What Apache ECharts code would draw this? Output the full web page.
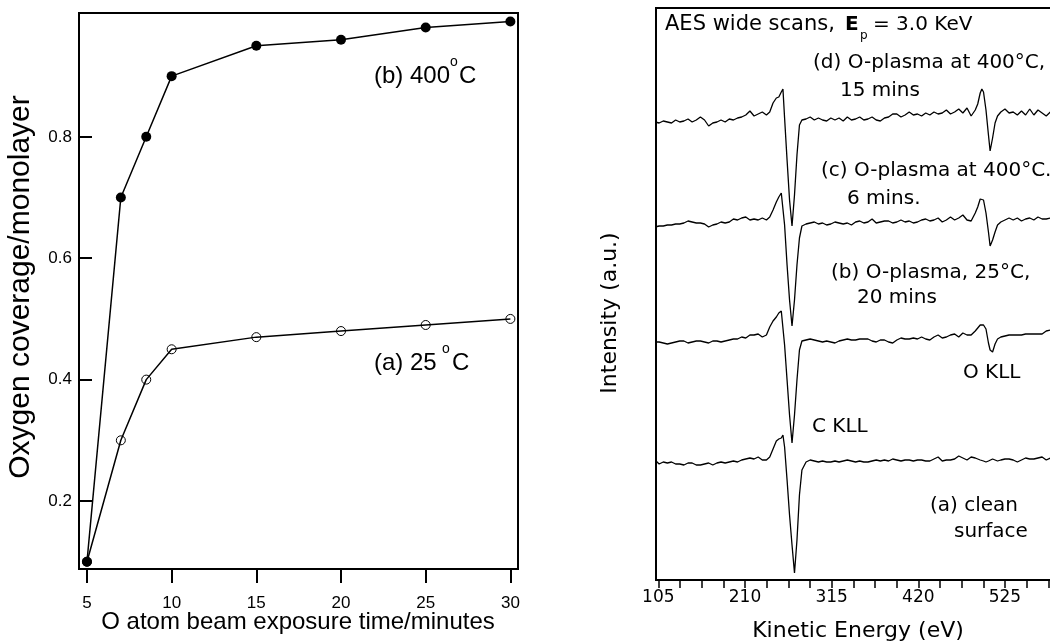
<!DOCTYPE html>
<html>
<head>
<meta charset="utf-8">
<script src="https://cdn.jsdelivr.net/npm/echarts@6/dist/echarts.min.js"></script>
<style>
    html, body { margin: 0; padding: 0; background: #fff; }
    #main { width: 1050px; height: 643px; }
</style>
</head>
<body>
<div id="main"></div>
<script>
    // left panel: coverage vs exposure time
    var coverTime = [5, 7, 8.5, 10, 15, 20, 25, 30];
    var cover25C = [0.1, 0.3, 0.4, 0.45, 0.47, 0.48, 0.49, 0.5];
    var cover400C = [0.1, 0.7, 0.8, 0.9, 0.95, 0.96, 0.98, 0.99];
    var timeTicks = [5, 10, 15, 20, 25, 30];
    var coverTicks = [0.2, 0.4, 0.6, 0.8];

    // right panel: AES wide scans (intensity in a.u., traces offset)
    var energy = [101, 106, 111, 116, 121, 126, 131, 136, 141, 146, 151, 156, 161, 166, 171, 176, 181, 186, 191, 196, 201, 206, 211, 216, 221, 226, 231, 236,
        240, 244, 248, 251, 254, 256, 258, 261, 264, 267, 270, 273, 276, 279,
        284, 289, 294, 299, 304, 309, 314, 319, 324, 329, 334, 339, 344, 349, 354, 359, 364, 369, 374, 379, 384, 389, 394, 399, 404, 409, 414, 419, 424, 429, 434, 439, 444, 449, 454, 459, 464, 469, 474, 479, 484, 489,
        492, 495, 497, 499, 502, 505, 507, 510, 513, 516,
        520, 525, 530, 535, 540, 545, 550, 555, 560, 565, 570, 575, 580];
    var scanD = [458, 457, 459, 458, 457, 460, 458, 459, 461, 458, 460, 463, 460, 454, 457, 458, 460, 458, 461, 460, 462, 463, 465, 469, 464, 466, 468, 465,
        468, 477, 482, 483, 488, 491, 462, 420, 380, 354, 385, 425, 455, 460,
        461, 463, 460, 462, 460, 459, 462, 460, 462, 459, 463, 460, 461, 463, 460, 461, 463, 460, 459, 462, 463, 466, 466, 463, 465, 468, 465, 466, 464, 467, 465, 468, 466, 467, 470, 466, 468, 471, 467, 472, 464, 470,
        476, 487, 491, 488, 470, 445, 429, 442, 457, 464,
        468, 471, 467, 468, 465, 469, 465, 471, 465, 470, 467, 464, 468];
    var scanC = [353, 354, 354, 355, 355, 356, 356, 357, 359, 358, 357, 357, 356, 353, 355, 356, 358, 357, 358, 361, 360, 362, 363, 360, 361, 360, 362, 360,
        363, 370, 378, 383, 387, 385, 355, 315, 280, 254, 280, 315, 342, 354,
        356, 357, 358, 356, 357, 355, 356, 358, 357, 356, 357, 355, 358, 359, 357, 358, 361, 357, 358, 359, 359, 357, 358, 360, 358, 359, 357, 358, 360, 361, 359, 360, 362, 358, 360, 363, 360, 362, 365, 360, 359, 367,
        373, 381, 383, 380, 367, 348, 334, 340, 348, 355,
        358, 360, 362, 360, 362, 359, 361, 362, 360, 363, 361, 361, 362];
    var scanB = [238, 238, 237, 236, 237, 238, 239, 239, 237, 238, 239, 239, 238, 237, 239, 239, 238, 239, 240, 241, 241, 243, 242, 245, 245, 246, 243, 245,
        253, 259, 263, 267, 269, 267, 235, 200, 165, 137, 165, 200, 230, 239,
        240, 241, 240, 239, 238, 239, 238, 237, 239, 240, 241, 240, 240, 241, 241, 241, 239, 238, 240, 240, 238, 237, 240, 242, 241, 241, 242, 241, 243, 241, 240, 243, 245, 242, 243, 245, 246, 243, 247, 245, 245, 249,
        252, 255, 257, 255, 251, 237, 230, 228, 236, 241,
        243, 244, 245, 245, 245, 245, 246, 246, 246, 246, 246, 249, 250];
    var scanA = [120, 116, 118, 117, 118, 116, 116, 115, 117, 117, 115, 115, 116, 117, 115, 117, 118, 117, 118, 119, 118, 120, 121, 122, 121, 123, 120, 120,
        123, 131, 139, 141, 142, 145, 133, 100, 65, 35, 7, 40, 85, 110,
        118, 120, 119, 118, 119, 118, 118, 119, 118, 119, 120, 119, 118, 119, 118, 118, 119, 120, 119, 120, 119, 121, 120, 119, 120, 120, 119, 120, 120, 119, 119, 121, 123, 119, 120, 120, 121, 124, 122, 120, 123, 122,
        121, 120, 119, 119, 118, 119, 120, 121, 120, 119,
        120, 121, 121, 120, 118, 120, 122, 121, 121, 122, 123, 120, 122];
    var energyLabels = [105, 210, 315, 420, 525];
    var energyTicks = [105, 131.25, 157.5, 183.75, 210, 236.25, 262.5, 288.75, 315, 341.25, 367.5, 393.75, 420, 446.25, 472.5, 498.75, 525, 551.25, 577.5];

    var SANS = 'Liberation Sans';
    var WIDE = 'DejaVu Sans';

    function pairs(xs, ys) {
        return xs.map(function (x, i) { return [x, ys[i]]; });
    }

    function txt(x, y, text, size, family, extra) {
        var el = {
            type: 'text', x: x, y: y, silent: true,
            style: { text: text, fill: '#000', fontSize: size, fontFamily: family, align: 'left', verticalAlign: 'middle' }
        };
        if (extra) {
            for (var k in extra) el.style[k] = extra[k];
        }
        return el;
    }

    function scanSeries(ys) {
        return {
            type: 'line', xAxisIndex: 1, yAxisIndex: 1,
            data: pairs(energy, ys),
            symbol: 'none', showSymbol: false, silent: true,
            lineStyle: { color: '#000', width: 1.3 }
        };
    }

    var chart = echarts.init(document.getElementById('main'), null, { renderer: 'canvas' });

    var option = {
        animation: false,
        backgroundColor: '#fff',
        grid: [
            { left: 79, top: 13, width: 439, height: 556, show: true, borderColor: '#000', borderWidth: 2, outerBoundsMode: 'none', containLabel: false },
            { left: 656, top: 8, right: -12, bottom: 63, show: true, borderColor: '#000', borderWidth: 2, outerBoundsMode: 'none', containLabel: false }
        ],
        xAxis: [
            {
                gridIndex: 0, type: 'value', min: 4.53, max: 30.45,
                splitLine: { show: false },
                axisLine: { show: true, lineStyle: { color: '#000', width: 2 } },
                axisTick: { show: true, inside: false, length: 14, customValues: timeTicks, lineStyle: { color: '#000', width: 2 } },
                axisLabel: { customValues: timeTicks, margin: 26, color: '#000', fontFamily: SANS, fontSize: 17 }
            },
            {
                gridIndex: 1, type: 'value', min: 102.2, max: 594.1,
                splitLine: { show: false },
                axisLine: { show: true, lineStyle: { color: '#000', width: 2 } },
                axisTick: { show: true, inside: false, length: 8, customValues: energyTicks, lineStyle: { color: '#000', width: 1.5 } },
                axisLabel: { customValues: energyLabels, margin: 9, color: '#000', fontFamily: WIDE, fontSize: 17 }
            }
        ],
        yAxis: [
            {
                gridIndex: 0, type: 'value', min: 0.088, max: 1.004,
                splitLine: { show: false },
                axisLine: { show: true, lineStyle: { color: '#000', width: 2 } },
                axisTick: { show: true, inside: true, length: 13, customValues: coverTicks, lineStyle: { color: '#000', width: 2 } },
                axisLabel: {
                    customValues: coverTicks, margin: 7, color: '#000', fontFamily: SANS, fontSize: 17,
                    formatter: function (v) { return v.toFixed(1); }
                }
            },
            {
                gridIndex: 1, type: 'value', min: 0, max: 572,
                splitLine: { show: false },
                axisLine: { show: true, lineStyle: { color: '#000', width: 2 } },
                axisTick: { show: false },
                axisLabel: { show: false }
            }
        ],
        series: [
            {
                name: '(a) 25 °C', type: 'line', xAxisIndex: 0, yAxisIndex: 0,
                data: pairs(coverTime, cover25C),
                symbol: 'circle', symbolSize: 9, silent: true,
                lineStyle: { color: '#000', width: 1.5 },
                itemStyle: { color: 'rgba(255,255,255,0)', borderColor: '#000', borderWidth: 1 }
            },
            {
                name: '(b) 400 °C', type: 'line', xAxisIndex: 0, yAxisIndex: 0,
                data: pairs(coverTime, cover400C),
                symbol: 'circle', symbolSize: 10, silent: true,
                lineStyle: { color: '#000', width: 1.5 },
                itemStyle: { color: '#000', borderWidth: 0 }
            },
            scanSeries(scanD),
            scanSeries(scanC),
            scanSeries(scanB),
            scanSeries(scanA)
        ],
        graphic: [
            // left panel texts
            txt(21, 287, 'Oxygen coverage/monolayer', 30, SANS, { align: 'center' }),
            txt(298, 622, 'O atom beam exposure time/minutes', 24, SANS, { align: 'center' }),
            txt(374, 76, '(b) 400', 24, SANS),
            txt(450, 62, 'o', 14, SANS),
            txt(459, 76, 'C', 24, SANS),
            txt(374, 363, '(a) 25', 24, SANS),
            txt(442, 349, 'o', 14, SANS),
            txt(452, 363, 'C', 24, SANS),
            // right panel texts
            txt(610, 313, 'Intensity (a.u.)', 22, WIDE, { align: 'center' }),
            txt(858, 631, 'Kinetic Energy (eV)', 22, WIDE, { align: 'center' }),
            txt(665, 25, 'AES wide scans,', 21, WIDE),
            txt(845, 25, 'E', 20, WIDE, { fontWeight: 'bold' }),
            txt(860, 36, 'p', 12, WIDE),
            txt(873, 25, '= 3.0 KeV', 20, WIDE),
            txt(813, 63, '(d) O-plasma at 400°C,', 20, WIDE),
            txt(840, 91, '15 mins', 20, WIDE),
            txt(821, 171, '(c) O-plasma at 400°C.', 20, WIDE),
            txt(847, 199, '6 mins.', 20, WIDE),
            txt(831, 273, '(b) O-plasma, 25°C,', 20, WIDE),
            txt(857, 298, '20 mins', 20, WIDE),
            txt(963, 373, 'O KLL', 20, WIDE),
            txt(812, 427, 'C KLL', 20, WIDE),
            txt(930, 506, '(a) clean', 20, WIDE),
            txt(954, 532, 'surface', 20, WIDE)
        ]
    };

    // rotate the two vertical axis titles
    option.graphic[0].rotation = Math.PI / 2;
    option.graphic[8].rotation = Math.PI / 2;

    chart.setOption(option);
</script>
</body>
</html>
